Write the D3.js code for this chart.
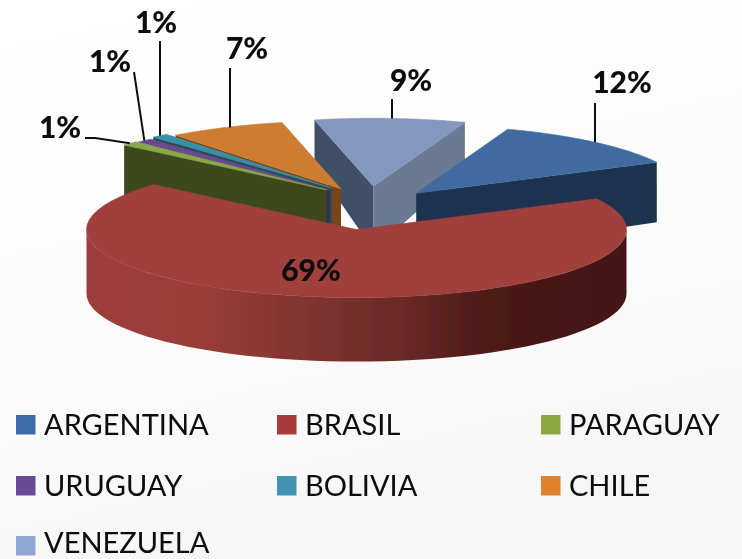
<!DOCTYPE html>
<html><head><meta charset="utf-8">
<script src="https://cdnjs.cloudflare.com/ajax/libs/d3/7.8.5/d3.min.js"></script>
<style>html,body{margin:0;padding:0;background:#fff}svg{display:block}text{font-family:Lato,"Noto Sans",sans-serif}</style>
</head><body><svg id="c" width="742" height="559"></svg>
<script>
const categories = ["ARGENTINA","BRASIL","PARAGUAY","URUGUAY","BOLIVIA","CHILE","VENEZUELA"];
const values = [12,69,1,1,1,7,9];
const topColors = ["#3f6ba0","#9f403c","#8aa84a","#6b4a8f","#3b8ea8","#cd7c30","#8498bd"];
const legendColors = ["#3c6ca8","#aa3b3a","#8ba83f","#6a4a94","#3f93b3","#e0812f","#8fa8d3"];
const startWallColors = ["#1b3150","#4a1815","#3c4a1e","#3a2a55","#2c4a58","#7a4413","#414f68"];
const endWallColors = ["#1b3150","#4a1815","#3c4a1e","#3a2a55","#2c4a58","#7a4413","#6b7a92"];
const explodeX = [.27,.34,.21,.21,.21,.235,.32];
const explodeY = [.29,.32,.39,.36,.38,.31,.32];

const W=742,H=559,cx=368,cy=208,A=270,B=68,firstAngle=19.8*Math.PI/180;
const svg=d3.select("#c");
const defs=svg.append("defs");
const bg=defs.append("linearGradient").attr("id","bg").attr("x1",0).attr("y1",0).attr("x2",.3).attr("y2",1);
bg.append("stop").attr("offset",0).attr("stop-color","#ffffff");
bg.append("stop").attr("offset",.55).attr("stop-color","#fcfcfc");
bg.append("stop").attr("offset",1).attr("stop-color","#f6f6f6");
const wg=defs.append("linearGradient").attr("id","redwall").attr("gradientUnits","userSpaceOnUse").attr("x1",83).attr("x2",625).attr("y1",0).attr("y2",0);
[[0,"#9c3e3a"],[.2,"#9a3d39"],[.31,"#8f3935"],[.49,"#762f2c"],[.6,"#682825"],[.72,"#501d1a"],[.82,"#4a1815"],[1,"#431816"]].forEach(s=>wg.append("stop").attr("offset",s[0]).attr("stop-color",s[1]));
const blur=defs.append("filter").attr("id","soft").attr("x","-5%").attr("y","-5%").attr("width","110%").attr("height","110%");
blur.append("feGaussianBlur").attr("stdDeviation",.45);

svg.append("rect").attr("width",W).attr("height",H).attr("fill","url(#bg)");
const root=svg.append("g").attr("filter","url(#soft)");

const pie=d3.pie().sort(null).startAngle(firstAngle).endAngle(firstAngle+2*Math.PI);
const arcs=pie(values);
const sx=d3.scaleLinear().domain([-1,1]).range([-A,A]);
const sy=d3.scaleLinear().domain([-1,1]).range([B,-B]);
const depth=v=>64-20*Math.pow(Math.max(0,v),2);
const line=d3.line();

const slices=arcs.map((d,i)=>{
  const mid=(d.startAngle+d.endAngle)/2;
  const ax=cx+sx(explodeX[i]*Math.sin(mid)), ay=cy+sy(explodeY[i]*Math.cos(mid));
  const P=t=>[ax+sx(Math.sin(t)),ay+sy(Math.cos(t))];
  const down=(p,v)=>[p[0],p[1]+depth(v)];
  return {i,d,mid,ax,ay,P,down};
});
const samples=(a,b)=>d3.range(0,61).map(k=>a+(b-a)*k/60);

// painter's order: rear slices first, the big front slice last
[6,5,4,3,2,0,1].forEach(i=>{
  const s=slices[i],{d,P,down}=s,apex=[s.ax,s.ay],g=root.append("g");
  const wall=(t,fill)=>g.append("path").attr("d",line([apex,P(t),down(P(t),Math.cos(t)),down(apex,0)])+"Z").attr("fill",fill);
  const nS=d.startAngle-Math.PI/2,nE=d.endAngle+Math.PI/2;
  if(Math.cos(nS)<0) wall(d.startAngle,startWallColors[i]);
  if(Math.cos(nE)<0) wall(d.endAngle,endWallColors[i]);
  const a=Math.max(d.startAngle,Math.PI/2),b=Math.min(d.endAngle,1.5*Math.PI);
  if(b>a){
    const rim=samples(a,b).map(P);
    const low=samples(a,b).map(t=>down(P(t),Math.cos(t))).reverse();
    g.append("path").attr("d",line(rim.concat(low))+"Z").attr("fill",i===1?"url(#redwall)":startWallColors[i]);
  }
  g.append("path").attr("d",line([apex].concat(samples(d.startAngle,d.endAngle).map(P)))+"Z")
    .attr("fill",topColors[i]).attr("stroke",topColors[i]).attr("stroke-width",.6).attr("stroke-linejoin","round");
});

// data labels and leader lines
const labelX=[622,311,60,110,156,247,411];
const labelY=[93,281,138,72,33,59,91];
const leaderTop=[[[595,103]],null,[[85,138],[95,138]],[[134,72]],[[160,41]],[[230,68]],[[392,99]]];
const leaderEnd=i=>{const s=slices[i];return s.P(s.mid);};
leaderTop.forEach((pts,i)=>{
  if(!pts) return;
  const e=leaderEnd(i);
  const first=pts[0];
  const end=pts.length===1&&i!==3?[first[0],e[1]]:e;
  root.append("path").attr("d",line(pts.concat([end]))).attr("fill","none").attr("stroke","#111").attr("stroke-width",2);
});
arcs.forEach((d,i)=>{
  root.append("text").attr("x",labelX[i]).attr("y",labelY[i]).attr("text-anchor","middle")
    .attr("font-size",30).attr("font-weight",900).attr("fill","#0d0d0d").text(d.value+"%");
});

// legend
const cols=[16,277,541],rows=[415,476,536],textBase=[435,496,553],textGap=28;
categories.forEach((c,i)=>{
  const x=cols[i%3],r=Math.floor(i/3);
  root.append("rect").attr("x",x).attr("y",rows[r]).attr("width",19.5).attr("height",19.5).attr("fill",legendColors[i]);
  root.append("text").attr("x",x+textGap).attr("y",textBase[r])
    .attr("font-size",29).attr("fill","#0a0a0a").text(c);
});
</script></body></html>
